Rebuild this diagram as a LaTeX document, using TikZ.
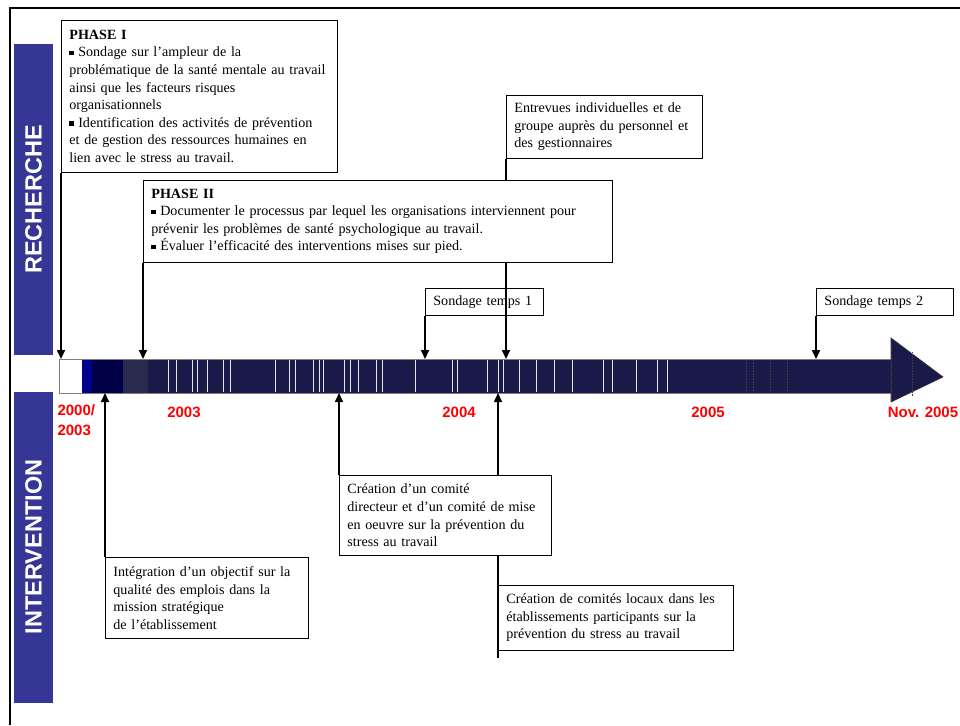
\documentclass[tikz,border=0pt]{standalone}
\usepackage{fontspec}
\setmainfont{Liberation Serif}
\setsansfont{Liberation Sans}
\usetikzlibrary{arrows.meta}
\definecolor{bandblue}{RGB}{54,54,150}
\definecolor{barnavy}{RGB}{26,26,74}
\definecolor{barblue}{RGB}{0,0,140}
\definecolor{barblack}{RGB}{0,0,70}
\definecolor{bargray}{RGB}{42,42,78}
\newcommand\puce{\raisebox{1.8pt}{\rule{4.2pt}{4.2pt}}\ }
\begin{document}
\begin{tikzpicture}[x=1pt,y=-1pt,
    boxstyle/.style={draw,fill=white,line width=0.8pt,anchor=north west,align=left,inner xsep=8pt,inner ysep=2pt,font=\fontsize{14.1}{17.6}\selectfont},
    linkstyle/.style={line width=1.6pt,-{Triangle[length=9pt,width=8pt]}},
    yearstyle/.style={text=red,font=\sffamily\bfseries\fontsize{15}{20}\selectfont},
    bandstyle/.style={fill=bandblue,text=white,rotate=90,minimum width=311pt,minimum height=39pt,font=\sffamily\bfseries\fontsize{23.5}{24}\selectfont}]
\useasboundingbox (0,0) rectangle (960,725);
\draw[line width=2.4pt] (10,725) -- (10,8) -- (960,8);
\node[bandstyle] (recherche) at (33.5,199.5) {RECHERCHE};
\node[bandstyle] (intervention) at (33.5,547) {INTERVENTION};
\coordinate (bartop) at (0,359);
\coordinate (barbot) at (0,393);
\fill[white] (59,359) rectangle (82,393);
\fill[barblue] (82,359) rectangle (92,393);
\fill[barblack] (92,359) rectangle (123,393);
\fill[bargray] (123,359) rectangle (148,393);
\fill[barnavy] (148,359) rectangle (891,393);
\foreach \x in {168,176,192,197,207,223,230,275,289,295,313,319,323,344,350,358,376,382,415,452,457,487,498,503,519,536,554,572,603,612,636,657,667}
    \draw[white!80!gray,line width=0.6pt] (\x,360) -- (\x,392);
\draw[gray,line width=0.6pt] (59,359) rectangle (891,393);
\draw[black!80,fill=barnavy,line width=0.6pt] (891,338) -- (943,377) -- (891,402) -- cycle;
\foreach \x in {746,753,770,787}
    \draw[black!75,densely dotted,line width=0.6pt] (\x,360) -- (\x,392);
\draw[black!75,densely dotted,line width=0.6pt] (891,345) -- (891,400);
\draw[black!75,densely dotted,line width=0.6pt] (912,352) -- (912,396);
\node[yearstyle,anchor=north west,align=left] (y2000) at (54,401) {2000/\\2003};
\node[yearstyle] (y2003) at (184,412) {2003};
\node[yearstyle] (y2004) at (459,412) {2004};
\node[yearstyle] (y2005) at (708,412) {2005};
\node[yearstyle] (ynov) at (923,412) {Nov. 2005};
\node[boxstyle,text width=260pt,minimum height=152pt] (phaseI) at (61,20)
    {\textbf{PHASE I}\\
     \puce Sondage sur l’ampleur de la\\
     problématique de la santé mentale au travail\\
     ainsi que les facteurs risques\\
     organisationnels\\
     \puce Identification des activités de prévention\\
     et de gestion des ressources humaines en\\
     lien avec le stress au travail.};
\draw[linkstyle] (phaseI.south west) -- (phaseI.south west |- bartop);
\node[boxstyle,text width=102pt,minimum height=27pt] (temps1) at (425,288) {Sondage temps 1};
\node[boxstyle,text width=121pt,minimum height=27pt] (temps2) at (816,288) {Sondage temps 2};
\node[boxstyle,text width=180pt,minimum height=63pt] (entrevues) at (506,95)
    {Entrevues individuelles et de\\
     groupe auprès du personnel et\\
     des gestionnaires};
\node[boxstyle,text width=219pt,minimum height=65pt] (locaux) at (498,585)
    {Création de comités locaux dans les\\
     établissements participants sur la\\
     prévention du stress au travail};
\node[boxstyle,text width=187pt,minimum height=81pt] (integration) at (105,557)
    {Intégration d’un objectif sur la\\
     qualité des emplois dans la\\
     mission stratégique\\
     de l’établissement};
\draw[linkstyle] (temps1.south west) -- (temps1.south west |- bartop);
\draw[linkstyle] (temps2.south west) -- (temps2.south west |- bartop);
\draw[linkstyle] (entrevues.south west) -- (entrevues.south west |- bartop);
\draw[linkstyle] ([yshift=-7pt]locaux.south west) -- (locaux.south west |- barbot);
\draw[linkstyle] (integration.north west) -- (integration.north west |- barbot);
\node[boxstyle,text width=453pt,minimum height=82pt] (phaseII) at (143,180)
    {\textbf{PHASE II}\\
     \puce Documenter le processus par lequel les organisations interviennent pour\\
     prévenir les problèmes de santé psychologique au travail.\\
     \puce Évaluer l’efficacité des interventions mises sur pied.};
\draw[linkstyle] (phaseII.south west) -- (phaseII.south west |- bartop);
\node[boxstyle,text width=196pt,minimum height=80pt] (comite) at (339,475)
    {Création d’un comité\\
     directeur et d’un comité de mise\\
     en oeuvre sur la prévention du\\
     stress au travail};
\draw[linkstyle] (comite.north west) -- (comite.north west |- barbot);
\end{tikzpicture}
\end{document}
